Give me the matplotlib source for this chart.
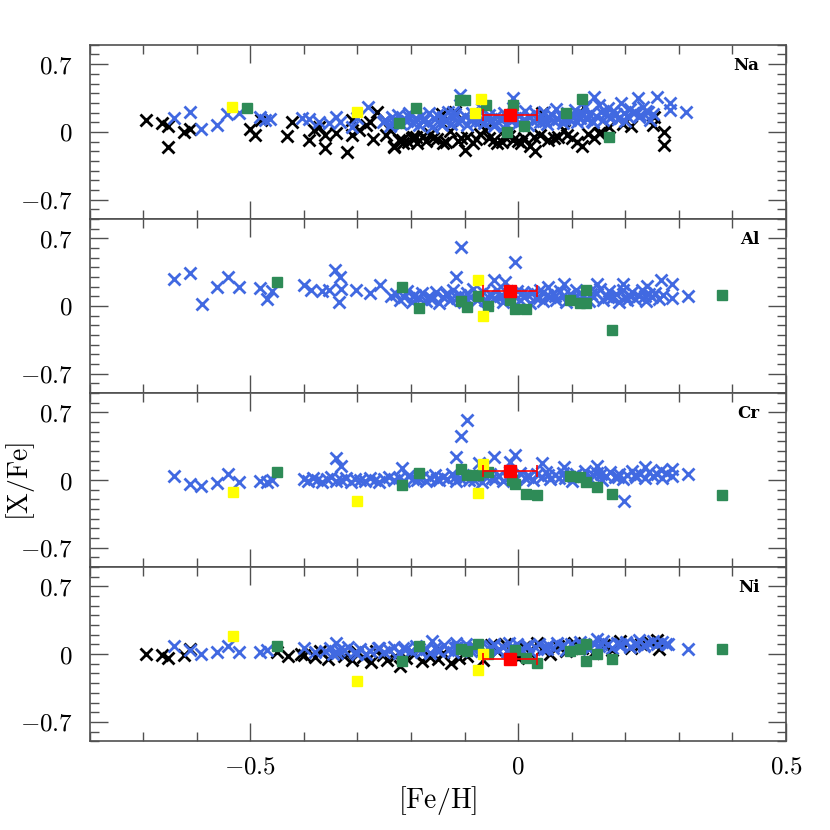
import numpy as np
import matplotlib
matplotlib.use("Agg")
import matplotlib.pyplot as plt
from matplotlib.ticker import MultipleLocator

plt.rcParams['mathtext.fontset'] = 'cm'
plt.rcParams['font.family'] = ['DejaVu Serif']

BLUE = '#4169E1'
GREEN = '#2E8B57'
YELLOW = '#FFFF00'

# ---------------- Na ----------------
na_black_feh = [-0.694, -0.665, -0.653, -0.653, -0.623, -0.613, -0.500, -0.491, -0.480, -0.431,
                -0.422, -0.391, -0.382, -0.372, -0.361, -0.361, -0.341, -0.320, -0.311, -0.310,
                -0.297, -0.284, -0.277, -0.271, -0.263, -0.247, -0.231, -0.222, -0.215, -0.197,
                -0.240, -0.231, -0.216, -0.190, -0.165, -0.159, -0.143, -0.140, -0.118, -0.106,
                -0.100, -0.071, -0.062, -0.046, -0.031, -0.025, -0.009, 0.010, 0.023, 0.032,
                0.029, 0.045, 0.066, 0.092, 0.110, 0.120, 0.123, 0.142, 0.150, 0.251,
                0.273, 0.273, 0.253, -0.205, -0.198, -0.188, -0.178, -0.172, -0.152, -0.135,
                -0.128, -0.112, -0.095, -0.085, -0.078, -0.055, -0.040, -0.018, 0.000, 0.005,
                0.040, 0.055, 0.075, 0.085, 0.100, 0.130, 0.155, 0.170, 0.195, 0.210]
na_black_val = [0.124, 0.09, 0.06, -0.158, 0.003, 0.03, 0.03, -0.03, 0.12, -0.04,
                0.106, -0.08, 0.02, 0.05, -0.03, -0.17, -0.007, -0.21, -0.03, 0.12,
                0.02, 0.07, 0.107, -0.075, 0.21, -0.03, -0.158, -0.08, -0.12, -0.05,
                0.02, -0.15, -0.08, -0.05, -0.02, -0.065, 0.18, -0.117, 0.21, -0.065,
                -0.186, -0.02, 0.02, -0.08, -0.10, -0.05, -0.08, -0.065, -0.15, -0.20,
                -0.05, 0.19, -0.065, -0.03, -0.10, -0.15, 0.26, -0.065, -0.015, 0.07,
                0.0, -0.134, 0.157, -0.10, -0.06, -0.12, -0.04, -0.09, -0.07, -0.10,
                0.01, -0.09, -0.05, -0.11, -0.07, -0.06, -0.12, -0.04, -0.09, -0.12,
                -0.03, -0.08, -0.05, 0.02, -0.06, -0.02, 0.0, 0.05, 0.08, 0.06]

na_blue_feh = [-0.643, -0.613, -0.593, -0.563, -0.543, -0.521, -0.482, -0.472, -0.463, -0.404,
               -0.391, -0.372, -0.353, -0.341, -0.332, -0.310, -0.281, -0.300, -0.253, -0.122,
               -0.248, -0.240, -0.236, -0.229, -0.224, -0.219, -0.213, -0.207, -0.203, -0.196,
               -0.190, -0.186, -0.181, -0.175, -0.169, -0.166, -0.160, -0.155, -0.151, -0.146,
               -0.140, -0.137, -0.131, -0.126, -0.121, -0.118, -0.113, -0.109, -0.104, -0.099,
               -0.095, -0.090, -0.086, -0.081, -0.077, -0.072, -0.068, -0.063, -0.058, -0.054,
               -0.050, -0.046, -0.041, -0.037, -0.032, -0.027, -0.023, -0.019, -0.014, -0.009,
               -0.005, 0.000, 0.004, 0.009, 0.013, 0.018, 0.022, 0.027, 0.031, 0.036,
               0.040, 0.044, 0.048, 0.053, 0.057, 0.061, 0.066, 0.070, 0.074, 0.079,
               0.083, 0.088, 0.092, 0.097, 0.101, 0.106, 0.110, 0.115, 0.119, 0.124,
               0.128, 0.133, 0.137, 0.142, 0.146, 0.150, 0.155, 0.159, 0.164, 0.168,
               0.173, 0.177, 0.182, 0.186, 0.192, 0.197, 0.203, 0.208, 0.214, 0.219,
               0.223, 0.228, 0.233, 0.238, 0.243, 0.246, 0.251, 0.260, 0.283, 0.283,
               0.314, -0.235, -0.205, -0.178, -0.142, -0.108, -0.075, -0.044, -0.012, 0.020,
               0.051, 0.086, 0.112, 0.139, 0.171, 0.200, 0.226]
na_blue_val = [0.14, 0.203, 0.03, 0.07, 0.18, 0.20, 0.15, 0.12, 0.134, 0.14,
               0.13, 0.107, 0.09, 0.15, 0.107, 0.055, 0.26, 0.14, 0.10, 0.21,
               0.12, 0.06, 0.15, 0.10, 0.17, 0.08, 0.13, 0.11, 0.19, 0.09,
               0.14, 0.07, 0.16, 0.12, 0.10, 0.20, 0.05, 0.13, 0.17, 0.09,
               0.15, 0.11, 0.21, 0.08, 0.14, 0.18, 0.10, 0.38, 0.12, 0.16,
               0.07, 0.13, 0.19, 0.10, 0.15, 0.11, 0.24, 0.09, 0.14, 0.17,
               0.12, 0.06, 0.16, 0.10, 0.13, 0.20, 0.08, 0.15, 0.11, 0.35,
               0.14, 0.09, 0.17, 0.12, 0.22, 0.07, 0.15, 0.11, 0.19, 0.13,
               0.10, 0.16, 0.21, 0.08, 0.14, 0.18, 0.11, 0.24, 0.13, 0.17,
               0.09, 0.15, 0.20, 0.12, 0.17, 0.23, 0.10, 0.14, 0.19, 0.26,
               0.13, 0.18, 0.11, 0.365, 0.16, 0.28, 0.21, 0.12, 0.19, 0.25,
               0.15, 0.22, 0.18, 0.13, 0.30, 0.20, 0.16, 0.24, 0.19, 0.21,
               0.35, 0.17, 0.26, 0.22, 0.21, 0.12, 0.18, 0.365, 0.30, 0.23,
               0.21, 0.09, 0.16, 0.11, 0.07, 0.13, 0.17, 0.08, 0.12, 0.16,
               0.11, 0.13, 0.15, 0.10, 0.14, 0.11, 0.15]

na_green_feh = [-0.506, -0.222, -0.190, -0.109, -0.100, -0.060, -0.010, -0.020, 0.010, 0.090, 0.120, 0.170]
na_green_val = [0.25, 0.09, 0.25, 0.33, 0.33, 0.28, 0.28, 0.0, 0.06, 0.20, 0.34, -0.05]
na_yellow_feh = [-0.535, -0.300, -0.070, -0.080]
na_yellow_val = [0.26, 0.21, 0.34, 0.20]

# ---------------- Al ----------------
al_blue_feh = [-0.643, -0.612, -0.591, -0.562, -0.541, -0.521, -0.482, -0.469, -0.460, -0.400,
               -0.387, -0.366, -0.353, -0.342, -0.332, -0.335, -0.330, -0.303, -0.277, -0.258,
               -0.238, -0.106, -0.005, -0.117, -0.045, -0.025, 0.056, 0.085, 0.147, 0.195,
               0.240, 0.267, 0.288, 0.288, 0.317,
               -0.228, -0.221, -0.214, -0.207, -0.199, -0.193, -0.186, -0.179, -0.172, -0.166,
               -0.160, -0.153, -0.147, -0.140, -0.134, -0.128, -0.121, -0.115, -0.109, -0.102,
               -0.096, -0.090, -0.084, -0.077, -0.071, -0.065, -0.059, -0.052, -0.046, -0.040,
               -0.034, -0.028, -0.021, -0.015, -0.009, -0.003, 0.004, 0.010, 0.016, 0.022,
               0.028, 0.034, 0.041, 0.047, 0.053, 0.059, 0.065, 0.071, 0.078, 0.084,
               0.090, 0.096, 0.102, 0.108, 0.115, 0.121, 0.127, 0.133, 0.139, 0.145,
               0.152, 0.158, 0.164, 0.170, 0.176, 0.182, 0.189, 0.195, 0.201, 0.207,
               0.213, 0.219, 0.226, 0.232, 0.238, 0.244, 0.250, 0.256, 0.262, 0.270,
               -0.196, -0.163, -0.131, -0.099, -0.062, -0.031, 0.007, 0.038, 0.069, 0.104,
               0.136, 0.168, 0.204, 0.236]
al_blue_val = [0.275, 0.34, 0.02, 0.20, 0.30, 0.20, 0.19, 0.07, 0.15, 0.22,
               0.17, 0.15, 0.17, 0.37, 0.30, 0.04, 0.18, 0.17, 0.13, 0.22,
               0.10, 0.61, 0.45, 0.30, 0.27, 0.25, 0.20, 0.23, 0.23, 0.23,
               0.21, 0.27, 0.23, 0.08, 0.10,
               0.12, 0.06, 0.09, 0.15, 0.04, 0.11, 0.08, 0.13, 0.05, 0.10,
               0.07, 0.14, 0.03, 0.09, 0.12, 0.06, 0.16, 0.08, 0.11, 0.04,
               0.13, 0.09, 0.18, 0.06, 0.10, 0.14, 0.05, 0.12, 0.08, 0.16,
               0.10, 0.04, 0.13, 0.07, 0.11, 0.15, 0.06, 0.09, 0.12, 0.03,
               0.14, 0.08, 0.17, 0.05, 0.11, 0.09, 0.13, 0.06, 0.15, 0.10,
               0.04, 0.12, 0.08, 0.16, 0.07, 0.11, 0.14, 0.05, 0.09, 0.13,
               0.18, 0.06, 0.10, 0.15, 0.08, 0.12, 0.04, 0.17, 0.09, 0.11,
               0.14, 0.07, 0.10, 0.16, 0.05, 0.12, 0.09, 0.13, 0.07, 0.11,
               0.10, 0.07, 0.12, 0.09, 0.06, 0.10, 0.13, 0.08, 0.10, 0.07,
               0.12, 0.09, 0.06, 0.10]

al_green_feh = [-0.450, -0.217, -0.186, -0.106, -0.096, -0.075, -0.056, -0.016, -0.005, 0.015,
                0.096, 0.116, 0.126, 0.126, 0.176, 0.380]
al_green_val = [0.244, 0.20, -0.02, 0.05, -0.01, 0.10, 0.0, 0.06, -0.03, -0.03,
                0.06, 0.03, 0.03, 0.16, -0.25, 0.11]
al_yellow_feh = [-0.075, -0.066]
al_yellow_val = [0.27, -0.10]

# ---------------- Cr ----------------
cr_blue_feh = [-0.643, -0.612, -0.592, -0.562, -0.541, -0.521, -0.482, -0.469, -0.460, -0.340,
               -0.330, -0.217, -0.106, -0.096, -0.117, -0.074, -0.045, -0.005, -0.016, 0.045,
               0.085, 0.147, 0.197, 0.237, 0.267, 0.288, 0.288, 0.317,
               -0.400, -0.392, -0.383, -0.375, -0.366, -0.357, -0.349, -0.340, -0.331, -0.322,
               -0.313, -0.304, -0.295, -0.286, -0.277, -0.268, -0.259, -0.250, -0.241, -0.232,
               -0.223, -0.214, -0.205, -0.196, -0.188, -0.180, -0.172, -0.164, -0.156, -0.148,
               -0.140, -0.132, -0.124, -0.116, -0.108, -0.100, -0.092, -0.084, -0.076, -0.068,
               -0.060, -0.052, -0.044, -0.036, -0.028, -0.020, -0.012, -0.004, 0.004, 0.012,
               0.020, 0.028, 0.036, 0.044, 0.052, 0.060, 0.068, 0.076, 0.084, 0.092,
               0.100, 0.108, 0.116, 0.124, 0.132, 0.140, 0.148, 0.156, 0.164, 0.172,
               0.180, 0.188, 0.196, 0.204, 0.212, 0.220, 0.228, 0.236, 0.244, 0.252,
               0.260, 0.268, 0.276, -0.185, -0.152, -0.118, -0.082, -0.049, -0.015, 0.018,
               0.055, 0.088, 0.121, 0.154, 0.186, 0.219]
cr_blue_val = [0.04, -0.04, -0.06, -0.03, 0.06, -0.02, -0.01, -0.02, 0.0, 0.23,
               0.15, 0.12, 0.457, 0.62, 0.24, 0.18, 0.24, 0.26, 0.19, 0.18,
               0.13, 0.15, -0.22, 0.13, 0.10, 0.11, 0.04, 0.06,
               0.01, -0.01, 0.02, 0.0, -0.02, 0.01, 0.03, -0.01, 0.0, 0.02,
               -0.02, 0.01, 0.0, -0.01, 0.02, 0.0, -0.02, 0.01, 0.03, 0.0,
               0.02, -0.01, 0.04, 0.01, 0.0, 0.03, -0.01, 0.02, 0.05, 0.0,
               0.03, 0.01, 0.06, -0.01, 0.02, 0.04, 0.0, 0.05, 0.02, -0.02,
               0.03, 0.06, 0.01, 0.04, -0.01, 0.03, 0.05, 0.01, 0.07, 0.02,
               0.04, 0.0, 0.06, 0.03, 0.08, 0.01, 0.05, 0.02, 0.07, 0.04,
               -0.01, 0.06, 0.03, 0.09, 0.02, 0.05, 0.07, 0.0, 0.04, 0.08,
               0.03, 0.06, 0.01, 0.05, 0.09, 0.03, 0.06, 0.02, 0.08, 0.04,
               0.06, 0.02, 0.07, 0.02, 0.01, 0.03, 0.0, 0.02, 0.04, 0.03,
               0.05, 0.02, 0.04, 0.06, 0.03, 0.05]

cr_green_feh = [-0.450, -0.186, -0.217, -0.106, -0.096, -0.075, -0.056, -0.012, -0.005, 0.015,
                0.035, 0.096, 0.116, 0.126, 0.147, 0.176, 0.380]
cr_green_val = [0.086, 0.07, -0.05, 0.11, 0.05, 0.05, 0.08, 0.0, -0.04, -0.14,
                -0.15, 0.045, 0.03, -0.02, -0.07, -0.14, -0.15]
cr_yellow_feh = [-0.532, -0.300, -0.075, -0.066]
cr_yellow_val = [-0.12, -0.22, -0.13, 0.17]

# ---------------- Ni ----------------
ni_black_feh = [-0.695, -0.665, -0.653, -0.623, -0.612, -0.450, -0.430, -0.405, -0.400, -0.380,
                -0.370, -0.355, -0.340, -0.325, -0.310, -0.300, -0.290, -0.275, -0.265, -0.252,
                -0.245, -0.230, -0.220, -0.210, -0.195, -0.180, -0.165, -0.150, -0.140, -0.125,
                -0.110, -0.095, -0.080, -0.065, -0.050, -0.040, -0.025, -0.010, 0.000, 0.010,
                0.020, 0.035, 0.045, 0.060, 0.075, 0.090, 0.105, 0.120, 0.140, 0.160,
                0.175, 0.190, 0.210, 0.230, 0.245, 0.260, 0.262]
ni_black_val = [0.0, -0.01, -0.04, -0.01, 0.05, 0.02, -0.02, 0.0, -0.01, -0.03,
                0.03, -0.05, 0.01, -0.02, -0.06, 0.02, -0.03, -0.08, 0.03, -0.01,
                -0.06, -0.02, -0.12, -0.04, 0.0, -0.07, -0.03, -0.05, 0.01, -0.09,
                -0.04, -0.02, 0.06, -0.06, 0.09, 0.03, 0.11, 0.0, -0.04, 0.07,
                0.02, 0.12, 0.05, 0.0, 0.08, 0.03, 0.12, 0.06, 0.01, 0.09,
                0.04, 0.14, 0.06, 0.10, 0.13, 0.15, 0.05]

ni_blue_feh = [-0.643, -0.612, -0.592, -0.562, -0.541, -0.521, -0.482, -0.469, -0.400, -0.380,
               -0.340, -0.335, -0.345, -0.300, -0.260, -0.215, -0.160, -0.117, -0.045, -0.018,
               0.053, 0.147, 0.190, 0.235, 0.280, 0.317,
               -0.360, -0.352, -0.338, -0.325, -0.318, -0.305, -0.295, -0.284, -0.276, -0.262,
               -0.250, -0.241, -0.232, -0.222, -0.210, -0.200, -0.191, -0.182, -0.173, -0.165,
               -0.156, -0.148, -0.139, -0.131, -0.122, -0.114, -0.105, -0.097, -0.088, -0.080,
               -0.071, -0.063, -0.054, -0.046, -0.037, -0.029, -0.020, -0.012, -0.003, 0.005,
               0.014, 0.022, 0.031, 0.039, 0.048, 0.056, 0.065, 0.073, 0.082, 0.090,
               0.099, 0.107, 0.116, 0.124, 0.133, 0.141, 0.150, 0.158, 0.167, 0.175,
               0.184, 0.192, 0.201, 0.209, 0.218, 0.226, 0.235, 0.243, 0.252, 0.260,
               0.268, 0.276, -0.186, -0.152, -0.118, -0.085, -0.050, -0.016, 0.019, 0.052,
               0.086, 0.120, 0.154, 0.188, 0.221]
ni_blue_val = [0.08, 0.04, 0.0, 0.02, 0.08, 0.02, 0.02, 0.04, 0.06, 0.02,
               0.12, 0.04, 0.0, 0.0, 0.06, 0.06, 0.14, 0.12, 0.10, 0.12,
               0.05, 0.16, 0.10, 0.08, 0.10, 0.05,
               0.03, 0.06, 0.01, 0.04, 0.07, 0.02, 0.05, 0.0, 0.03, 0.06,
               0.02, 0.04, 0.07, 0.01, 0.05, 0.03, 0.08, 0.02, 0.05, 0.01,
               0.06, 0.03, 0.09, 0.04, 0.02, 0.07, 0.05, 0.10, 0.03, 0.06,
               0.08, 0.02, 0.05, 0.09, 0.04, 0.07, 0.03, 0.06, 0.10, 0.05,
               0.08, 0.03, 0.07, 0.11, 0.05, 0.09, 0.06, 0.12, 0.08, 0.04,
               0.10, 0.07, 0.13, 0.09, 0.05, 0.11, 0.08, 0.14, 0.10, 0.06,
               0.12, 0.09, 0.13, 0.07, 0.11, 0.15, 0.09, 0.12, 0.14, 0.10,
               0.13, 0.11, 0.05, 0.04, 0.06, 0.05, 0.07, 0.06, 0.08, 0.07,
               0.09, 0.08, 0.10, 0.09, 0.11]

ni_green_feh = [-0.450, -0.186, -0.217, -0.106, -0.075, -0.096, -0.056, -0.005, 0.015, 0.035,
                0.096, 0.116, 0.126, 0.126, 0.147, 0.176, 0.380]
ni_green_val = [0.08, 0.08, -0.07, 0.05, 0.10, 0.03, 0.0, 0.04, -0.04, -0.09,
                0.03, 0.05, 0.10, -0.07, 0.0, -0.05, 0.05]
ni_yellow_feh = [-0.532, -0.300, -0.075, -0.066]
ni_yellow_val = [0.19, -0.28, -0.16, 0.0]

# reference point (red) per panel
ref_feh = -0.015
ref_err = 0.05
ref_val = [0.175, 0.15, 0.09, -0.05]

elements = ['Na', 'Al', 'Cr', 'Ni']
panels = [
    (na_black_feh, na_black_val, na_blue_feh, na_blue_val, na_green_feh, na_green_val, na_yellow_feh, na_yellow_val),
    (None, None, al_blue_feh, al_blue_val, al_green_feh, al_green_val, al_yellow_feh, al_yellow_val),
    (None, None, cr_blue_feh, cr_blue_val, cr_green_feh, cr_green_val, cr_yellow_feh, cr_yellow_val),
    (ni_black_feh, ni_black_val, ni_blue_feh, ni_blue_val, ni_green_feh, ni_green_val, ni_yellow_feh, ni_yellow_val),
]

fig, axes = plt.subplots(4, 1, figsize=(8.3, 8.3), dpi=100, sharex=True)
fig.subplots_adjust(left=0.108, right=0.947, top=0.946, bottom=0.107, hspace=0)

frame = '#505050'
for i, ax in enumerate(axes):
    bx, by, ux, uy, gx, gy, yx, yy = panels[i]
    if bx is not None:
        ax.plot(bx, by, 'x', color='black', ms=9, mew=2, zorder=2)
    ax.plot(ux, uy, 'x', color=BLUE, ms=9, mew=2, zorder=3)
    ax.plot(gx, gy, 's', color=GREEN, ms=7, mec=GREEN, zorder=4)
    ax.plot(yx, yy, 's', color=YELLOW, ms=7, mec=YELLOW, zorder=5)
    ax.errorbar([ref_feh], [ref_val[i]], xerr=ref_err, fmt='s', color='red', ms=8,
                capsize=4.3, elinewidth=1.2, capthick=1.2, zorder=6)

    ax.set_xlim(-0.8, 0.5)
    ax.set_ylim(-0.9, 0.9)
    ax.xaxis.set_major_locator(MultipleLocator(0.5))
    ax.xaxis.set_minor_locator(MultipleLocator(0.1))
    ax.set_yticks([-0.7, 0, 0.7])
    ax.set_yticklabels([r'$-0.7$', r'$0$', r'$0.7$'])
    ax.yaxis.set_minor_locator(MultipleLocator(0.1))
    ax.tick_params(which='both', direction='in', top=True, right=True, color=frame, width=1.0)
    ax.tick_params(which='major', length=13, labelsize=18)
    ax.tick_params(which='minor', length=6.5)
    ax.tick_params(axis='y', pad=12)
    ax.tick_params(axis='x', pad=10)
    for s in ax.spines.values():
        s.set_color(frame)
        s.set_linewidth(1.2)
    ax.text(0.962, 0.88, elements[i], transform=ax.transAxes, ha='right', va='center',
            fontsize=12, fontweight='bold', family='DejaVu Serif')

axes[-1].set_xticks([-0.5, 0, 0.5])
axes[-1].set_xticklabels([r'$-0.5$', r'$0$', r'$0.5$'])
axes[-1].set_xlabel(r'$[\mathrm{Fe/H}]$', fontsize=20, labelpad=4)
fig.text(0.025, 0.42, r'$[\mathrm{X/Fe}]$', rotation=90, fontsize=20, ha='center', va='center')

fig.savefig('out.png', dpi=100)
